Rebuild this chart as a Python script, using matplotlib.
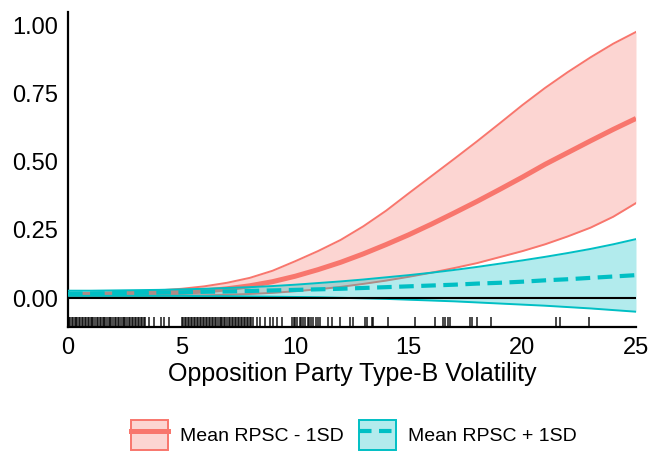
import matplotlib
matplotlib.use("Agg")
import matplotlib.pyplot as plt
from matplotlib.patches import Patch
from matplotlib.lines import Line2D

plt.rcParams['font.family'] = ['Liberation Sans', 'DejaVu Sans']

# ---- data ----
x_vals = list(range(0, 26))

red_mean = [0.012, 0.013, 0.014, 0.016, 0.018, 0.021, 0.026, 0.034, 0.045, 0.060,
            0.080, 0.104, 0.131, 0.162, 0.196, 0.232, 0.271, 0.312, 0.354, 0.398,
            0.443, 0.490, 0.533, 0.576, 0.618, 0.658]
red_upper = [0.018, 0.019, 0.021, 0.024, 0.028, 0.034, 0.043, 0.056, 0.074, 0.100,
             0.135, 0.172, 0.213, 0.263, 0.320, 0.384, 0.447, 0.510, 0.574, 0.640,
             0.707, 0.770, 0.828, 0.882, 0.932, 0.975]
red_lower = [0.006, 0.006, 0.007, 0.007, 0.008, 0.009, 0.010, 0.012, 0.015, 0.019,
             0.025, 0.032, 0.041, 0.052, 0.064, 0.078, 0.093, 0.110, 0.128, 0.150,
             0.172, 0.197, 0.226, 0.258, 0.298, 0.348]

teal_mean = [0.016, 0.017, 0.018, 0.019, 0.020, 0.021, 0.023, 0.024, 0.026, 0.028,
             0.030, 0.032, 0.034, 0.037, 0.040, 0.043, 0.046, 0.049, 0.053, 0.056,
             0.060, 0.065, 0.069, 0.074, 0.079, 0.084]
teal_upper = [0.027, 0.027, 0.028, 0.029, 0.030, 0.032, 0.034, 0.037, 0.040, 0.044,
              0.049, 0.055, 0.061, 0.068, 0.076, 0.084, 0.093, 0.103, 0.114, 0.126,
              0.138, 0.151, 0.165, 0.180, 0.197, 0.216]
teal_lower = [0.008, 0.008, 0.008, 0.008, 0.008, 0.008, 0.007, 0.007, 0.006, 0.005,
              0.004, 0.003, 0.001, -0.001, -0.003, -0.006, -0.009, -0.012, -0.016, -0.020,
              -0.024, -0.028, -0.033, -0.038, -0.044, -0.050]

rug_vals = [0.0, 0.05, 0.1, 0.17, 0.22, 0.3, 0.36, 0.41, 0.48, 0.55, 0.6, 0.68, 0.73,
            0.8, 0.86, 0.93, 1.0, 1.05, 1.12, 1.2, 1.26, 1.31, 1.4, 1.46, 1.52, 1.6,
            1.65, 1.72, 1.8, 1.86, 1.91, 2.0, 2.06, 2.13, 2.2, 2.25, 2.33, 2.4, 2.45,
            2.52, 2.6, 2.67, 2.72, 2.8, 2.86, 2.93, 3.0, 3.07, 3.12, 3.2, 3.26, 3.33, 3.4,
            3.56, 3.78, 4.08, 4.23, 4.45,
            5.0, 5.06, 5.13, 5.2, 5.27, 5.33, 5.4, 5.46, 5.53, 5.6, 5.66, 5.73, 5.8,
            5.86, 5.93, 6.0, 6.07, 6.13, 6.2, 6.27, 6.33, 6.4, 6.47, 6.53, 6.6, 6.67,
            6.73, 6.8, 6.87, 6.93, 7.0, 7.07, 7.13, 7.2, 7.27, 7.33, 7.4, 7.47, 7.53,
            7.6, 7.67, 7.73, 7.8, 7.87, 7.93, 8.0, 8.07, 8.15,
            8.3, 8.45, 8.67, 8.9, 9.03, 9.2, 9.4,
            9.85, 9.93, 10.0, 10.1, 10.2, 10.27, 10.35, 10.45, 10.55, 10.62, 10.7,
            10.8, 10.9, 11.0, 11.1,
            11.46, 11.6, 11.97, 12.4, 12.56, 13.07, 13.15, 13.37, 13.44, 14.1, 15.27,
            16.15, 16.52, 16.6, 16.74, 16.81, 17.7, 17.77, 17.99, 18.62, 21.5, 21.65,
            22.95]

x_ticks = [0, 5, 10, 15, 20, 25]
y_ticks = [0.00, 0.25, 0.50, 0.75, 1.00]
y_tick_labels = ["0.00", "0.25", "0.50", "0.75", "1.00"]
series_labels = ["Mean RPSC - 1SD", "Mean RPSC + 1SD"]
x_label = "Opposition Party Type-B Volatility"

RED = "#F8766D"
TEAL = "#00BFC4"

fig = plt.figure(figsize=(6.49, 4.51), dpi=100)
ax = fig.add_axes([68 / 649, 1 - 327 / 451, (636 - 68) / 649, (327 - 12) / 451])

# ribbons and lines
ax.fill_between(x_vals, red_lower, red_upper, color=RED, alpha=0.3, lw=0, zorder=1)
ax.plot(x_vals, red_upper, color=RED, lw=1.4, zorder=2)
ax.plot(x_vals, red_lower, color=RED, lw=1.4, zorder=2)
ax.plot(x_vals, red_mean, color=RED, lw=3.6, zorder=2, solid_capstyle='butt')

ax.fill_between(x_vals, teal_lower, teal_upper, color=TEAL, alpha=0.3, lw=0, zorder=3)
ax.plot(x_vals, teal_upper, color=TEAL, lw=1.4, zorder=4)
ax.plot(x_vals, teal_lower, color=TEAL, lw=1.4, zorder=4)
ax.plot(x_vals, teal_mean, color=TEAL, lw=3.0, zorder=4, dashes=(3.5, 1.8))

ax.axhline(0, color="black", lw=1.5, zorder=5)

# rug
for v in rug_vals:
    ax.plot([v, v], [0, 0.032], color='black', lw=1.1, alpha=0.9,
            transform=ax.get_xaxis_transform(), zorder=6, solid_capstyle='butt')

ax.set_xlim(0, 25)
ax.set_ylim(-0.106, 1.048)
ax.set_xticks(x_ticks)
ax.set_yticks(y_ticks)
ax.set_yticklabels(y_tick_labels)
ax.tick_params(length=0, labelsize=17, pad=7, colors='black')
for s in ['top', 'right']:
    ax.spines[s].set_visible(False)
for s in ['left', 'bottom']:
    ax.spines[s].set_linewidth(1.6)
    ax.spines[s].set_color('black')
ax.set_xlabel(x_label, fontsize=18, labelpad=2)

h1 = (Patch(facecolor=RED, alpha=0.3, edgecolor='none'),
      Patch(facecolor='none', edgecolor=RED, lw=1.4),
      Line2D([], [], color=RED, lw=3.6))
h2 = (Patch(facecolor=TEAL, alpha=0.3, edgecolor='none'),
      Patch(facecolor='none', edgecolor=TEAL, lw=1.4),
      Line2D([], [], color=TEAL, lw=3.0, dashes=(3, 1.8)))
fig.legend([h1, h2], series_labels, loc='center',
           bbox_to_anchor=(354 / 649, 1 - 435 / 451), ncol=2, frameon=False,
           fontsize=14, handlelength=1.9, handleheight=2.0, columnspacing=0.75,
           handletextpad=0.65)

fig.savefig("out.png", dpi=100)
